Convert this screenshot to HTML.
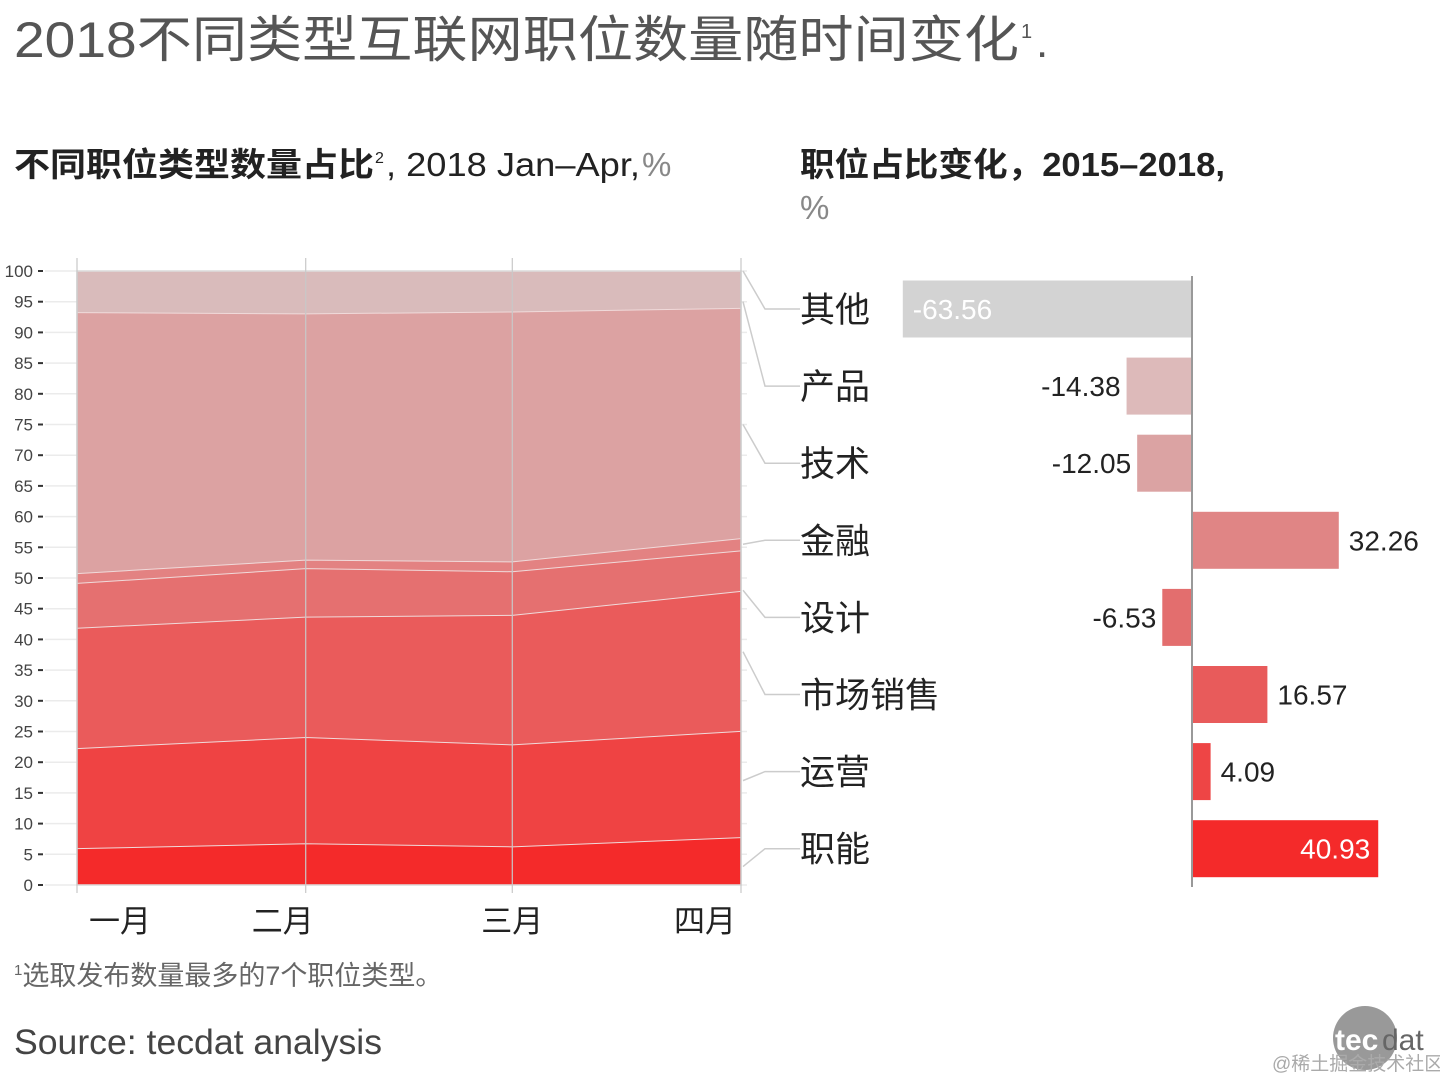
<!DOCTYPE html>
<html><head><meta charset="utf-8"><style>
html,body{margin:0;padding:0;background:#fff}
svg{display:block}
text{font-family:"Liberation Sans","Noto Sans CJK SC",sans-serif}
</style></head><body>
<svg id="s" width="1440" height="1080" viewBox="0 0 1440 1080" xmlns="http://www.w3.org/2000/svg">
<text x="14" y="57" font-size="50" fill="#555" textLength="1005" lengthAdjust="spacingAndGlyphs">2018不同类型互联网职位数量随时间变化</text>
<text x="1021" y="38" font-size="20" fill="#555">1</text>
<text x="1036" y="57" font-size="44" fill="#555">.</text>
<text x="14" y="176" font-size="33" font-weight="bold" fill="#222" textLength="360" lengthAdjust="spacingAndGlyphs">不同职位类型数量占比</text>
<text x="375" y="163" font-size="16" fill="#222">2</text>
<text x="386" y="176" font-size="33" fill="#222" textLength="254" lengthAdjust="spacingAndGlyphs">, 2018  Jan–Apr,</text>
<text x="642" y="176" font-size="33" fill="#888">%</text>
<text x="800" y="176" font-size="33" font-weight="bold" fill="#222" textLength="425" lengthAdjust="spacingAndGlyphs">职位占比变化，2015–2018,</text>
<text x="800" y="219" font-size="33" fill="#888">%</text>
<g id="left"></g>
<g id="right"></g>
<text x="14" y="985" font-size="27" fill="#666"><tspan font-size="15" dy="-10">1</tspan><tspan dy="10">选取发布数量最多的7个职位类型。</tspan></text>
<text x="14" y="1054" font-size="35" fill="#444" textLength="368" lengthAdjust="spacingAndGlyphs">Source: tecdat analysis</text>
<circle cx="1365" cy="1038" r="32" fill="#999"/>
<text x="1335" y="1050" font-size="30" font-weight="bold" fill="#fff">tec</text>
<text x="1382" y="1050" font-size="30" fill="#666">dat</text>
<text x="1272" y="1070" font-size="19" fill="#aaa">@稀土掘金技术社区</text>
</svg>
<script>
const months=['一月','二月','三月','四月'];
const dayOffsets=[0,31,59,90];
const bands=['职能','运营','市场销售','设计','金融','技术','其他'];
const jobFunc=[6.0,6.8,6.3,7.8];
const ops=[16.3,17.3,16.6,17.3];
const sales=[19.6,19.6,21.1,22.8];
const design=[7.3,7.9,7.1,6.6];
const finance=[1.6,1.4,1.6,2.0];
const tech=[42.5,40.1,40.7,37.5];
const other=[6.7,6.9,6.6,6.0];
const series=[jobFunc,ops,sales,design,finance,tech,other];
const bandColors=['#F42A2A','#EF4343','#EA5B5B','#E57070','#E38282','#DCA2A2','#D9BBBB'];
const yTicks=[0,5,10,15,20,25,30,35,40,45,50,55,60,65,70,75,80,85,90,95,100];

const barCats=['其他','产品','技术','金融','设计','市场销售','运营','职能'];
const barValues=[-63.56,-14.38,-12.05,32.26,-6.53,16.57,4.09,40.93];
const barLabels=['-63.56','-14.38','-12.05','32.26','-6.53','16.57','4.09','40.93'];
const barColors=['#D3D3D3','#DDBABA','#DBA3A3','#E08585','#E36E6E','#E85B5B','#EE4545','#F42A2A'];
const connectorFrom=[100,95,75,55.5,48,38,17,3];

const NS='http://www.w3.org/2000/svg';
function el(t,a,p){const e=document.createElementNS(NS,t);for(const k in a)e.setAttribute(k,a[k]);p.appendChild(e);return e;}
const L=document.getElementById('left'),R=document.getElementById('right');
const x0=77,x1=741,yb=885,yt=271;
const X=d=>x0+(d-dayOffsets[0])/(dayOffsets[3]-dayOffsets[0])*(x1-x0);
const Y=v=>yb-v/100*(yb-yt);
yTicks.forEach(t=>{
  let g=el('line',{x1:45,x2:x1+6,y1:Y(t),y2:Y(t),stroke:'#ebebeb','stroke-width':1.5},L);
  
  
  let tk=el('line',{x1:38,x2:43,y1:Y(t),y2:Y(t),stroke:'#333','stroke-width':2},L);
  
  
  let tx=el('text',{x:33,y:Y(t)+6,'font-size':17,fill:'#444','text-anchor':'end'},L);
  tx.textContent=t;
  
  
});
let cum=[0,0,0,0];
series.forEach((s,i)=>{
  const lo=cum.slice();cum=cum.map((c,j)=>c+s[j]);
  let pts=dayOffsets.map((d,j)=>X(d)+','+Y(cum[j])).join(' ')+' '+dayOffsets.slice().reverse().map((d,j)=>X(d)+','+Y(lo[3-j])).join(' ');
  let p=el('polygon',{points:pts,fill:bandColors[i]},L);
  
  
  if(i<series.length-1){
    let ln=el('polyline',{points:dayOffsets.map((d,j)=>X(d)+','+Y(cum[j])).join(' '),fill:'none',stroke:'#f0dada','stroke-width':2},L);
    
    
  }
});
el('rect',{x:x0,y:yt,width:x1-x0,height:yb-yt,fill:'none',stroke:'#ddd','stroke-width':1.5},L);
dayOffsets.forEach(d=>{
  let v=el('line',{x1:X(d),x2:X(d),y1:258,y2:893,stroke:'#c8c8c8','stroke-width':1.2},L);
  
  
});
const mAnchor=['start','middle','middle','end'],mDx=[12,-23,0,-5];
months.forEach((m,i)=>{
  let t=el('text',{x:X(dayOffsets[i])+mDx[i],y:932,'font-size':31,fill:'#222','text-anchor':mAnchor[i]},L);
  t.textContent=m;
  
  
});
const z=1192,k=4.55,c0=309,step=77.1,bh=57;
const BX=v=>z+v*k;
barCats.forEach((c,i)=>{
  const cy=c0+i*step;
  let cn=el('polyline',{points:`743,${Y(connectorFrom[i])} 765,${cy} 800,${cy}`,fill:'none',stroke:'#ccc','stroke-width':1.5},R);
  
  
  let lb=el('text',{x:800,y:cy+13,'font-size':35,fill:'#222'},R);
  lb.textContent=c;
  
  
  const v=barValues[i],xa=Math.min(BX(v),z),w=Math.abs(BX(v)-z);
  let b=el('rect',{x:xa,y:cy-bh/2,width:w,height:bh,fill:barColors[i]},R);
  
  
  const inside=w>150;
  let vx,anc,col='#222';
  if(inside){col='#fff';if(v<0){vx=BX(v)+10;anc='start';}else{vx=BX(v)-8;anc='end';}}
  else if(v<0){vx=BX(v)-6;anc='end';}else{vx=BX(v)+10;anc='start';}
  let vt=el('text',{x:vx,y:cy+10,'font-size':28,fill:col,'text-anchor':anc},R);
  vt.textContent=barLabels[i];
  
  
});
let ax=el('line',{x1:z,x2:z,y1:276,y2:887,stroke:'#999','stroke-width':2},R);


</script>
</body></html>
